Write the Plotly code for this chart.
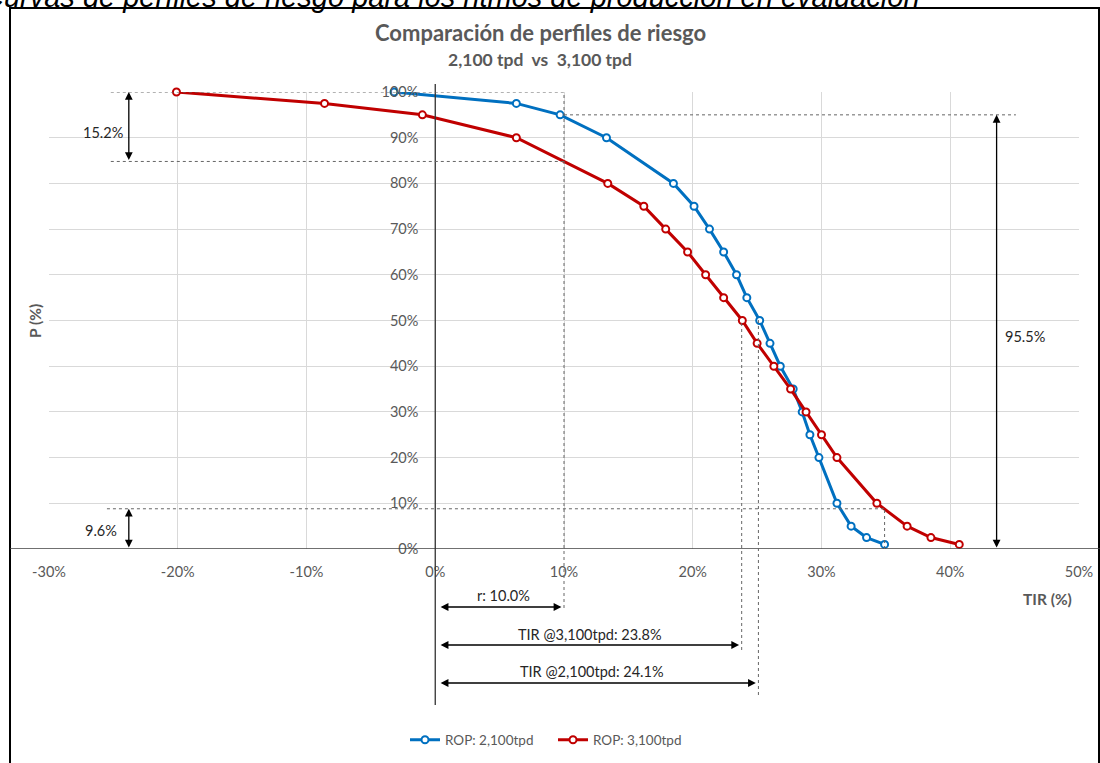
import plotly.graph_objects as go

# ---- data (percent units) ----
prob_levels = [100, 97.5, 95, 90, 80, 75, 70, 65, 60, 55, 50, 45, 40, 35, 30, 25, 20, 10, 5, 2.5, 1]
tir_2100 = [-3.2, 6.3, 9.7, 13.3, 18.5, 20.1, 21.3, 22.4, 23.4, 24.2, 25.2, 26.0, 26.8, 27.8, 28.5,
            29.1, 29.8, 31.2, 32.3, 33.5, 34.9]
tir_3100 = [-20.1, -8.6, -1.0, 6.3, 13.4, 16.2, 17.9, 19.6, 21.0, 22.4, 23.85, 25.0, 26.3, 27.6, 28.8,
            30.0, 31.2, 34.3, 36.65, 38.5, 40.7]
x_ticks = [-30, -20, -10, 0, 10, 20, 30, 40, 50]
x_ticklabels = ["-30%", "-20%", "-10%", "0%", "10%", "20%", "30%", "40%", "50%"]
y_ticks = [0, 10, 20, 30, 40, 50, 60, 70, 80, 90, 100]
y_ticklabels = ["0%", "10%", "20%", "30%", "40%", "50%", "60%", "70%", "80%", "90%", "100%"]

rate_r = 10.0
tir_p50_3100 = 23.8
tir_p50_2100 = 25.1
p_2100_at_r = 95.0
p_3100_at_r = 84.8
p_3100_at_max = 8.8
max_2100 = 34.9

BLUE = "#0070C0"
RED = "#C00000"
GRAY = "#595959"
FONT = "Lato"
NB = "\u00a0"

W, H = 1100, 763
ML, MR, MT, MB = 49, 21, 92, 214
PW, PH = W - ML - MR, H - MT - MB
X0, X1 = -30, 50
PX_PER_X = PW / (X1 - X0)


def px(xp):
    return (xp - ML) / PW


def py(yp):
    return (H - MB - yp) / PH


def xd(x):
    return (x - X0) / (X1 - X0)


fig = go.Figure()
fig.add_trace(go.Scatter(x=tir_2100, y=prob_levels, mode="lines+markers", name="ROP: 2,100tpd",
                         line=dict(color=BLUE, width=3),
                         marker=dict(symbol="circle", size=7, color="white", line=dict(color=BLUE, width=2)),
                         cliponaxis=False))
fig.add_trace(go.Scatter(x=tir_3100, y=prob_levels, mode="lines+markers", name="ROP: 3,100tpd",
                         line=dict(color=RED, width=3),
                         marker=dict(symbol="circle", size=7, color="white", line=dict(color=RED, width=2)),
                         cliponaxis=False))

dot = dict(color="#666666", width=1, dash="dot")
shapes = [
    # frame
    dict(type="rect", xref="paper", yref="paper", x0=px(10), x1=px(1099), y0=py(800), y1=py(8),
         line=dict(color="black", width=2), layer="below"),
    # x axis line across
    dict(type="line", xref="paper", yref="y", x0=px(10), x1=px(1100), y0=0, y1=0,
         line=dict(color="#404040", width=1.5)),
    # vertical line at 0
    dict(type="line", xref="x", yref="paper", x0=0, x1=0, y0=py(705), y1=py(84),
         line=dict(color="#333333", width=1.3)),
    # dotted guides
    dict(type="line", x0=-25.2, x1=rate_r, y0=100, y1=100, line=dot),
    dict(type="line", x0=-25.2, x1=rate_r, y0=p_3100_at_r, y1=p_3100_at_r, line=dot),
    dict(type="line", x0=rate_r, x1=45.1, y0=p_2100_at_r, y1=p_2100_at_r, line=dot),
    dict(type="line", x0=-25.5, x1=max_2100, y0=p_3100_at_max, y1=p_3100_at_max, line=dot),
    dict(type="line", x0=max_2100, x1=max_2100, y0=0, y1=p_3100_at_max, line=dot),
    dict(type="line", xref="x", yref="paper", x0=rate_r, x1=rate_r, y0=py(608), y1=py(92), line=dot),
    dict(type="line", xref="x", yref="paper", x0=tir_p50_3100, x1=tir_p50_3100, y0=py(650), y1=py(320), line=dot),
    dict(type="line", xref="x", yref="paper", x0=tir_p50_2100, x1=tir_p50_2100, y0=py(695), y1=py(320), line=dot),
]

ann = []
ARW = dict(showarrow=True, arrowhead=2, arrowside="end+start", arrowsize=1.2, arrowwidth=1.3,
           arrowcolor="black", text="")


def varrow(x, y0, y1):
    ann.append(dict(x=x, y=y1, ax=x, ay=y0, xref="x", yref="y", axref="x", ayref="y", **ARW))


def harrow(x0, x1, ypix):
    ann.append(dict(x=xd(x1), y=py(ypix), xref="paper", yref="paper", axref="pixel", ayref="pixel",
                    ax=-(x1 - x0) * PX_PER_X, ay=0, **ARW))


varrow(-23.8, p_3100_at_r, 100)
varrow(-23.8, 0, p_3100_at_max)
varrow(43.6, 0, p_2100_at_r)
harrow(0.3, rate_r - 0.2, 607)
harrow(0.3, tir_p50_3100 - 0.2, 645)
harrow(0.3, tir_p50_2100 - 0.2, 683)


def label(x, y, text, size=14.5, color="#262626", bold=False, xref="x", yref="y", angle=0):
    ann.append(dict(x=x, y=y, xref=xref, yref=yref, text=("<b>%s</b>" % text) if bold else text,
                    showarrow=False, font=dict(family=FONT, size=size, color=color), textangle=angle,
                    xanchor="center", yanchor="middle"))


label(-25.8, 91.1, "15.2%")
label(-26.0, 4.1, "9.6%")
label(45.8, 46.5, "95.5%")
label(xd(5.3), py(595), "r: 10.0%", xref="paper", yref="paper")
label(xd(12.0), py(634), "TIR @3,100tpd: 23.8%", xref="paper", yref="paper")
label(xd(12.2), py(671), "TIR @2,100tpd: 24.1%", xref="paper", yref="paper")
label(px(1047), py(599), "TIR (%)", size=15.5, color=GRAY, bold=True, xref="paper", yref="paper")
label(px(35), py(321), "P (%)", size=15.5, color=GRAY, bold=True, xref="paper", yref="paper", angle=-90)
label(px(540), py(33), "Comparación de perfiles de riesgo", size=22, color=GRAY, bold=True,
      xref="paper", yref="paper")
label(px(540), py(60), "2,100 tpd" + NB * 2 + "vs" + NB * 2 + "3,100 tpd", size=17.5, color=GRAY,
      bold=True, xref="paper", yref="paper")
ann.append(dict(x=px(922), y=py(-3), xref="paper", yref="paper", xanchor="right", yanchor="middle",
                text="<i>Curvas de perfiles de riesgo para los ritmos de producción en evaluación</i>",
                showarrow=False, font=dict(family="Liberation Sans", size=29, color="black")))

fig.update_layout(
    width=W, height=H, margin=dict(l=ML, r=MR, t=MT, b=MB, autoexpand=False),
    paper_bgcolor="white", plot_bgcolor="white",
    shapes=shapes, annotations=ann,
    showlegend=True,
    legend=dict(orientation="h", x=px(405), y=py(740), xanchor="left", yanchor="middle",
                font=dict(family=FONT, size=13.5, color=GRAY), itemwidth=30, entrywidth=103),
    xaxis=dict(range=[X0, X1], tickvals=x_ticks, ticktext=x_ticklabels, showgrid=True,
               gridcolor="#d9d9d9", gridwidth=1, zeroline=False, showline=False, ticks="outside",
               ticklen=10, tickcolor="rgba(0,0,0,0)", tickfont=dict(family=FONT, size=14.5, color=GRAY)),
    yaxis=dict(range=[0, 100], tickvals=y_ticks, ticktext=y_ticklabels, showgrid=True,
               gridcolor="#d9d9d9", gridwidth=1, zeroline=False, showline=False, anchor="free",
               position=xd(0), ticks="outside", ticklen=14, tickcolor="rgba(0,0,0,0)",
               tickfont=dict(family=FONT, size=14.5, color=GRAY)),
)

fig.write_html("out.html", config={"displayModeBar": False},
               post_script="document.body.style.margin='0px';")
